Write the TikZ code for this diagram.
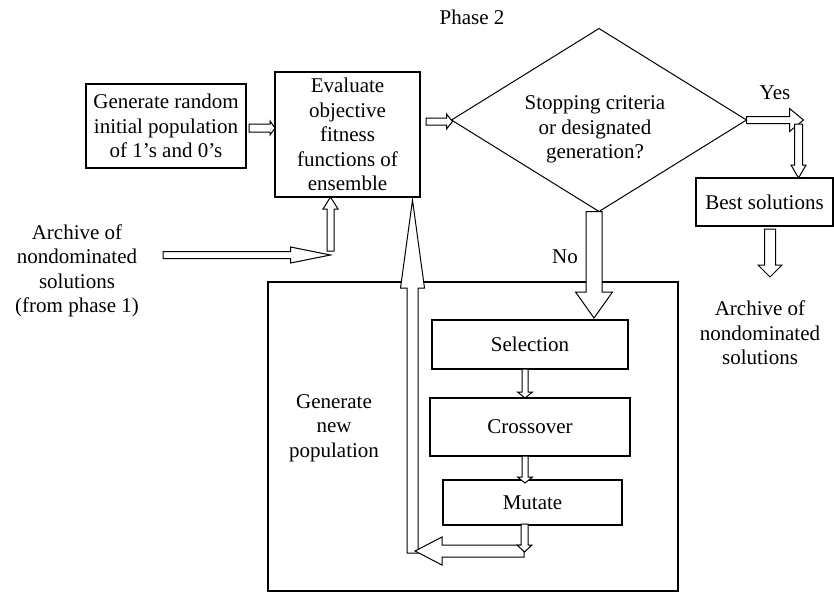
\documentclass[tikz,border=0pt]{standalone}
\usepackage{fontspec}
\setmainfont{Liberation Serif}
\usetikzlibrary{calc,shapes.geometric}
\newcommand{\fsz}{\fontsize{21}{24.5}\selectfont}
\newcommand{\blockarrow}[5]{%
  \coordinate (ba-s) at (#1);
  \coordinate (ba-e) at (#2);
  \coordinate (ba-h) at ($(ba-e)!#5!(ba-s)$);
  \draw[blockarr] ($(ba-s)!#3!90:(ba-e)$) -- ($(ba-h)!#3!90:(ba-e)$) -- ($(ba-h)!#4!90:(ba-e)$) -- (ba-e)
     -- ($(ba-h)!#4!-90:(ba-e)$) -- ($(ba-h)!#3!-90:(ba-e)$) -- ($(ba-s)!#3!-90:(ba-e)$) -- cycle;}
\begin{document}
\begin{tikzpicture}[x=1pt,y=-1pt,
  box/.style={draw, rectangle, line width=1.1pt, inner sep=0pt, outer sep=0pt, align=center, font=\fsz},
  txt/.style={align=center, font=\fsz, inner sep=0pt},
  blockarr/.style={draw, fill=white, line width=1pt, line join=miter}]
\useasboundingbox (0,0) rectangle (834,592);

% boxes
\node[box, minimum width=160pt, minimum height=84pt] (gen) at (166,126) {Generate random\\initial population\\of 1’s and 0’s};
\node[box, minimum width=145pt, minimum height=125pt] (eval) at (347.5,134.5) {Evaluate\\objective\\fitness\\functions of\\ensemble};
\node[draw, diamond, line width=1pt, minimum width=295pt, minimum height=183pt, inner sep=0pt, outer sep=0pt] (dec) at (599,120) {};
\node[txt] (dectext) at (595,129.5) {Stopping criteria\\or designated\\generation?};
\node[box, minimum width=137pt, minimum height=48pt] (best) at (764.5,202) {Best solutions};
\node[box, minimum width=410pt, minimum height=309pt] (newpop) at (473,436.5) {};
\node[box, minimum width=196pt, minimum height=49pt] (sel) at (530,344.5) {Selection};
\node[box, minimum width=200pt, minimum height=58pt] (cross) at (530,427) {Crossover};
\node[box, minimum width=179pt, minimum height=45pt] (mut) at (532.5,502.5) {Mutate};

% texts
\node[txt] (phase) at (472,17) {Phase 2};
\node[txt] (arch1) at (77,271) {Archive of\\nondominated\\solutions\\(from phase 1)};
\node[txt] (genpop) at (334,428) {Generate\\new\\population};
\node[txt] (yes) at (775,93) {Yes};
\node[txt] (no) at (565,257) {No};
\node[txt] (arch2) at (760,333) {Archive of\\nondominated\\solutions};

% coordinates for connectors
\coordinate (a1s) at ($(gen.east)+(3,2)$);
\coordinate (a1e) at (a1s -| eval.west);
\coordinate (arcs) at (163,255);
\coordinate (arcj) at (330.5,255);
\coordinate (arcu) at ($(arcj)+(0,-4)$);
\coordinate (arce) at (arcu |- eval.south);
\coordinate (a3s) at ($(eval.east)+(6,-13)$);
\coordinate (a3e) at ($(a3s -| dec.west)+(1,0)$);
\coordinate (yesend) at ($(dec.east)+(57,0)$);
\coordinate (ydn) at ($(dec.east)+(52,4)$);
\coordinate (ydne) at (ydn |- best.north);
\coordinate (bs) at ($(best.south)+(5.5,3)$);
\coordinate (be) at ($(bs)+(0,48)$);
\coordinate (nos) at ($(dec.south)+(-5,0)$);
\coordinate (noe) at ($(nos |- sel.north)+(0,-2)$);
\coordinate (s1) at ($(sel.south)+(-5,0)$);
\coordinate (s1e) at (s1 |- cross.north);
\coordinate (c1) at ($(cross.south)+(-5,0)$);
\coordinate (c1e) at ($(c1 |- mut.north)+(0,3)$);
\coordinate (m1) at ($(mut.south)+(-8,-1)$);
\coordinate (m1e) at ($(m1)+(0,28)$);
\coordinate (ls) at (524,551);
\coordinate (le) at (415,551);
\coordinate (tallb) at (412.5,553);
\coordinate (tallt) at ($(eval.south east)+(-7.5,3)$);

% connectors
\blockarrow{a1s}{a1e}{4pt}{7pt}{5pt}
\blockarrow{arcs}{arcj}{3.5pt}{8pt}{40pt}
\blockarrow{arcu}{arce}{3.5pt}{7.5pt}{12pt}
\blockarrow{a3s}{a3e}{3.5pt}{7.5pt}{6pt}
\blockarrow{dec.east}{yesend}{3.5pt}{11.5pt}{14pt}
\blockarrow{ydn}{ydne}{4pt}{7.5pt}{13pt}
\blockarrow{bs}{be}{5.5pt}{12pt}{12pt}
\blockarrow{nos}{noe}{8pt}{18.5pt}{26pt}
\blockarrow{s1}{s1e}{3pt}{7.5pt}{6pt}
\blockarrow{c1}{c1e}{3pt}{7.5pt}{6pt}
\blockarrow{tallb}{tallt}{5.5pt}{12pt}{88pt}
\blockarrow{ls}{le}{6pt}{14pt}{27pt}
\blockarrow{m1}{m1e}{3.5pt}{7.5pt}{7pt}
\end{tikzpicture}
\end{document}
